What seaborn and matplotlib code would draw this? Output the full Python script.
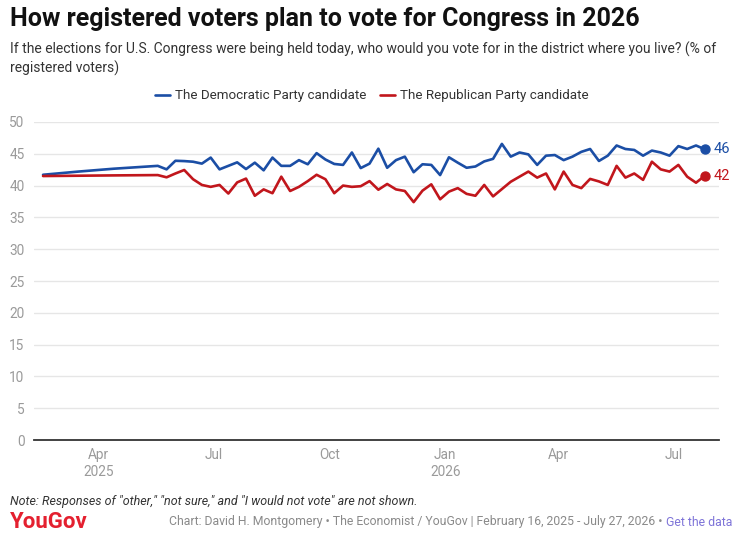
import pandas as pd
import matplotlib.pyplot as plt
import seaborn as sns

# =========================
# DATA
# =========================

early_dates = ["2025-02-16", "2025-03-16", "2025-04-13", "2025-05-18"]
weekly_dates = pd.date_range("2025-05-25", "2026-07-26", freq="7D")

dem_early = [41.7, 42.2, 42.65, 43.1]
rep_early = [41.5, 41.55, 41.6, 41.65]

dem_weekly = [42.55, 43.9, 43.85, 43.75, 43.45, 44.4, 42.55, 43.1, 43.65, 42.6,
              43.6, 42.4, 44.4, 43.1, 43.1, 44.0, 43.35, 45.1, 44.1, 43.4,
              43.25, 45.2, 42.75, 43.45, 45.8, 42.8, 44.0, 44.55, 42.1, 43.35,
              43.25, 41.65, 44.45, 43.6, 42.8, 43.0, 43.8, 44.2, 46.55, 44.55,
              45.2, 44.9, 43.25, 44.7, 44.8, 44.0, 44.55, 45.3, 45.75, 43.87,
              44.7, 46.3, 45.75, 45.6, 44.7, 45.5, 45.2, 44.7, 46.2, 45.75,
              46.3, 45.7]

rep_weekly = [41.3, 41.9, 42.45, 41.0, 40.1, 39.8, 40.1, 38.75, 40.5, 41.1,
              38.4, 39.4, 38.8, 41.4, 39.15, 39.8, 40.7, 41.7, 41.0, 38.8,
              40.0, 39.8, 39.9, 40.7, 39.35, 40.25, 39.4, 39.15, 37.4, 39.2,
              40.2, 37.85, 39.05, 39.6, 38.7, 38.4, 40.1, 38.3, 39.45, 40.6,
              41.4, 42.2, 41.25, 41.9, 39.4, 42.2, 40.1, 39.6, 41.05, 40.65,
              40.1, 43.1, 41.25, 41.9, 40.9, 43.75, 42.55, 42.2, 43.25, 41.4,
              40.45, 41.55]

dem_label = "The Democratic Party candidate"
rep_label = "The Republican Party candidate"
dem_color = "#1b4ea5"
rep_color = "#c1161c"

y_ticks = [0, 5, 10, 15, 20, 25, 30, 35, 40, 45, 50]
x_tick_dates = ["2025-04-01", "2025-07-01", "2025-10-01", "2026-01-01", "2026-04-01", "2026-07-01"]
x_tick_labels = ["Apr\n2025", "Jul", "Oct", "Jan\n2026", "Apr", "Jul"]

# =========================
# BUILD TABLE
# =========================

dates = pd.to_datetime(early_dates).append(weekly_dates)
df = pd.concat([
    pd.DataFrame({"date": dates, "pct": dem_early + dem_weekly, "party": dem_label}),
    pd.DataFrame({"date": dates, "pct": rep_early + rep_weekly, "party": rep_label}),
])

# =========================
# PLOT
# =========================

sns.set_theme(style="white")
plt.rcParams['font.family'] = ['Roboto', 'DejaVu Sans']

fig = plt.figure(figsize=(7.44, 5.42), dpi=100)
ax = fig.add_axes([0.046, 0.188, 0.92, 0.587])

sns.lineplot(data=df, x="date", y="pct", hue="party",
             palette={dem_label: dem_color, rep_label: rep_color},
             linewidth=1.9, ax=ax, clip_on=False)

# end dots + labels
for vals, color in [(dem_weekly, dem_color), (rep_weekly, rep_color)]:
    ax.scatter([weekly_dates[-1]], [vals[-1]], s=42, color=color, zorder=5, clip_on=False)
    ax.annotate(f"{round(vals[-1])}", (weekly_dates[-1], vals[-1]),
                xytext=(6.5, 0), textcoords="offset points", va="center",
                color=color, fontsize=10.5, annotation_clip=False)

ax.set_ylim(0, 50)
ax.set_xlim(pd.Timestamp("2025-02-09"), pd.Timestamp("2026-08-06"))
ax.set_yticks(y_ticks)
ax.set_xticks(pd.to_datetime(x_tick_dates))
ax.set_xticklabels(x_tick_labels)
ax.tick_params(axis="both", colors="#9a9a9a", labelsize=9.8, length=0, pad=6)
ax.tick_params(axis="y", pad=7)
ax.set_xlabel("")
ax.set_ylabel("")
ax.grid(axis="y", color="#e6e6e6", linewidth=1)
ax.set_axisbelow(True)
for s in ["top", "right", "left"]:
    ax.spines[s].set_visible(False)
ax.spines["bottom"].set_color("#333333")
ax.spines["bottom"].set_linewidth(1.3)

handles, labels = ax.get_legend_handles_labels()
ax.get_legend().remove()
fig.legend(handles, labels, loc="center", bbox_to_anchor=(0.5, 1 - 96 / 542),
           ncol=2, frameon=False, fontsize=9.6, handlelength=1.1,
           handletextpad=0.4, columnspacing=1.0, labelcolor="#333333")

# =========================
# TEXT
# =========================

fig.text(0.013, 1 - 19 / 542, "How registered voters plan to vote for Congress in 2026",
         fontsize=18, fontweight="bold", color="#111111", va="center")
fig.text(0.013, 1 - 49 / 542,
         "If the elections for U.S. Congress were being held today, who would you vote for in the district where you live? (% of",
         fontsize=10, color="#333333", va="center")
fig.text(0.013, 1 - 68 / 542, "registered voters)", fontsize=10, color="#333333", va="center")

fig.text(0.013, 1 - 501 / 542,
         "Note: Responses of \"other,\" \"not sure,\" and \"I would not vote\" are not shown.",
         fontsize=9, style="italic", color="#333333", va="center")
fig.text(0.013, 1 - 522 / 542, "YouGov", fontsize=16, fontweight="bold",
         color="#e4202f", va="center")

get_data = fig.text(0.984, 1 - 522 / 542, "Get the data", fontsize=8.8,
                    color="#7e74d8", va="center", ha="right")
fig.canvas.draw()
bb = get_data.get_window_extent()
x_right = bb.x0 / fig.bbox.width
fig.text(x_right, 1 - 522 / 542,
         "Chart: David H. Montgomery \u2022 The Economist / YouGov | February 16, 2025 - July 27, 2026 \u2022 ",
         fontsize=8.8, color="#8a8a8a", va="center", ha="right")

fig.savefig("out.png", dpi=100)
